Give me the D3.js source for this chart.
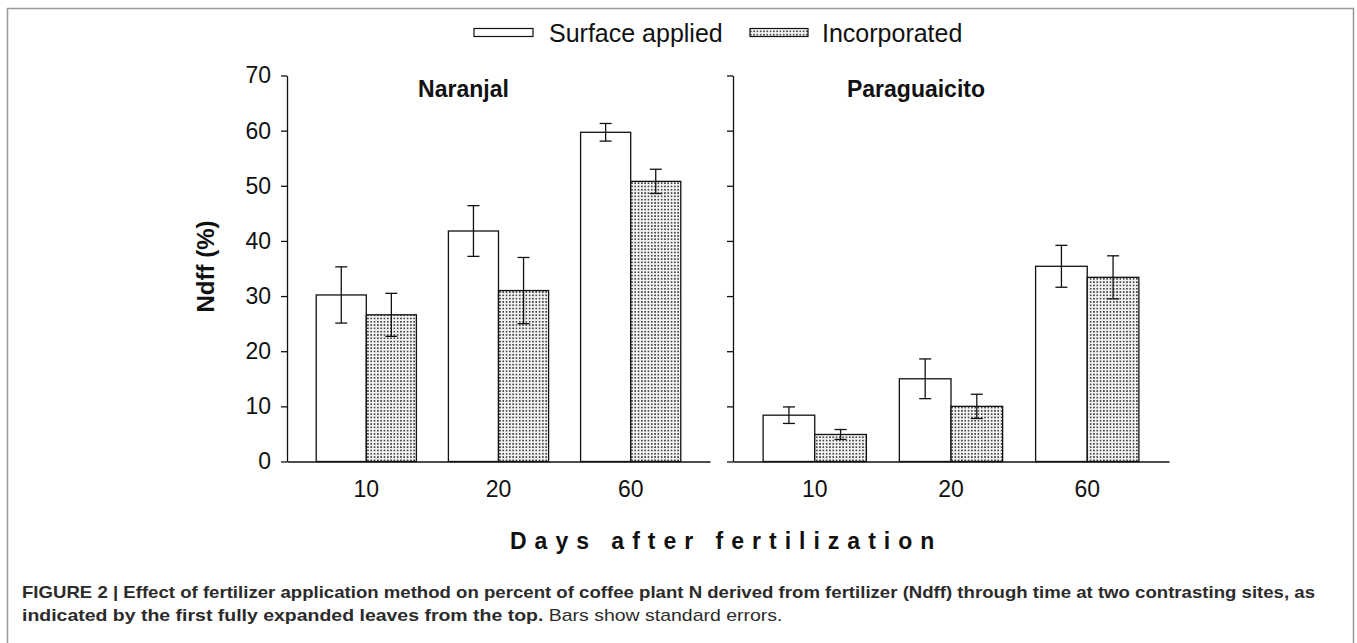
<!DOCTYPE html>
<html>
<head>
<meta charset="utf-8">
<script src="https://cdn.jsdelivr.net/npm/d3@7"></script>
<style>
  body { margin: 0; background: #fff; }
  svg { display: block; font-family: Arial, "Liberation Sans", sans-serif; }
</style>
</head>
<body>
<div class="graph"></div>
<script>
// Datos
const days = ["10", "20", "60"];
const methods = ["surface", "incorporated"];
const legendLabels = ["Surface applied", "Incorporated"];
const yTicks = [0, 10, 20, 30, 40, 50, 60, 70];

const naranjalSurface = [30.2, 41.8, 59.7];
const naranjalSurfaceSE = [5.1, 4.6, 1.6];
const naranjalIncorporated = [26.6, 31.0, 50.8];
const naranjalIncorporatedSE = [3.9, 6.0, 2.2];

const paraguaicitoSurface = [8.4, 15.0, 35.4];
const paraguaicitoSurfaceSE = [1.5, 3.6, 3.8];
const paraguaicitoIncorporated = [4.9, 10.0, 33.4];
const paraguaicitoIncorporatedSE = [0.9, 2.2, 3.9];

const width = 1357;
const height = 643;

const svg = d3.select(".graph")
    .append("svg")
    .attr("width", width)
    .attr("height", height);

// Patrón de puntos para "Incorporated"
const defs = svg.append("defs");
const pat = defs.append("pattern")
    .attr("id", "dots")
    .attr("patternUnits", "userSpaceOnUse")
    .attr("width", 3.3)
    .attr("height", 3.3);
pat.append("rect").attr("width", 3.3).attr("height", 3.3).attr("fill", "#f2f2f2");
pat.append("rect").attr("x", 0.9).attr("y", 0.9).attr("width", 1.5).attr("height", 1.5).attr("fill", "#222");

// Marco de la figura
svg.append("path")
    .attr("d", "M7.5,643 V8.5 H1353.5 V643")
    .attr("fill", "none")
    .attr("stroke", "#999")
    .attr("stroke-width", 1.5);

// Escala Y común
const yScale = d3.scaleLinear()
    .domain([0, 70])
    .range([461.5, 75.5]);

const panels = [
    { name: "Naranjal", range: [287, 710], labels: true,
      values: [naranjalSurface, naranjalIncorporated], se: [naranjalSurfaceSE, naranjalIncorporatedSE] },
    { name: "Paraguaicito", range: [733, 1169], labels: false,
      values: [paraguaicitoSurface, paraguaicitoIncorporated], se: [paraguaicitoSurfaceSE, paraguaicitoIncorporatedSE] }
];

panels.forEach(function (p) {
    const x0 = d3.scaleBand()
        .domain(days)
        .range(p.range)
        .paddingInner(0.242)
        .paddingOuter(0.221);

    const x1 = d3.scaleBand()
        .domain(methods)
        .range([0, x0.bandwidth()]);

    const g = svg.append("g");

    // Barras
    methods.forEach(function (m, mi) {
        g.selectAll(null)
            .data(days)
            .enter()
            .append("rect")
            .attr("x", d => x0(d) + x1(m))
            .attr("y", (d, i) => yScale(p.values[mi][i]))
            .attr("width", x1.bandwidth())
            .attr("height", (d, i) => yScale(0) - yScale(p.values[mi][i]))
            .attr("fill", mi === 0 ? "#fff" : "url(#dots)")
            .attr("stroke", "#111")
            .attr("stroke-width", 1.3);
    });

    // Barras de error
    methods.forEach(function (m, mi) {
        days.forEach(function (d, i) {
            const cx = x0(d) + x1(m) + x1.bandwidth() / 2;
            const top = yScale(p.values[mi][i] + p.se[mi][i]);
            const bot = yScale(p.values[mi][i] - p.se[mi][i]);
            const eg = g.append("g").attr("stroke", "#111").attr("stroke-width", 1.3);
            eg.append("line").attr("x1", cx).attr("x2", cx).attr("y1", top).attr("y2", bot);
            eg.append("line").attr("x1", cx - 6).attr("x2", cx + 6).attr("y1", top).attr("y2", top);
            eg.append("line").attr("x1", cx - 6).attr("x2", cx + 6).attr("y1", bot).attr("y2", bot);
        });
    });

    // Eje Y
    const yAxis = d3.axisLeft(yScale)
        .tickValues(yTicks)
        .tickSize(6)
        .tickSizeOuter(0)
        .tickPadding(10);
    if (!p.labels) yAxis.tickFormat("");

    const ya = g.append("g")
        .attr("transform", `translate(${p.range[0]},0)`)
        .call(yAxis);
    ya.selectAll("path, line").attr("stroke", "#111").attr("stroke-width", 1.3);
    ya.selectAll("text").attr("font-size", 23).attr("fill", "#111").attr("font-family", null);

    // Eje X
    const xa = g.append("g")
        .attr("transform", `translate(0,${yScale(0)})`)
        .call(d3.axisBottom(x0).tickSize(0).tickSizeOuter(0).tickPadding(19.5));
    xa.selectAll("path").attr("stroke", "#111").attr("stroke-width", 1.3);
    xa.selectAll("text").attr("font-size", 23).attr("fill", "#111").attr("font-family", null);

    // Título del panel
    g.append("text")
        .attr("x", (p.range[0] + p.range[1]) / 2 - 35)
        .attr("y", 97)
        .attr("text-anchor", "middle")
        .attr("font-size", 23)
        .attr("font-weight", "bold")
        .attr("fill", "#111")
        .text(p.name);
});

// Etiqueta del eje Y
svg.append("text")
    .attr("transform", "translate(214,266.5) rotate(-90)")
    .attr("text-anchor", "middle")
    .attr("font-size", 24)
    .attr("font-weight", "bold")
    .attr("fill", "#111")
    .text("Ndff (%)");

// Etiqueta del eje X
svg.append("text")
    .attr("x", 510)
    .attr("y", 549.3)
    .attr("font-size", 23)
    .attr("font-weight", "bold")
    .attr("letter-spacing", 8)
    .attr("fill", "#111")
    .text("Days after fertilization");

// Leyenda
const legend = svg.append("g");
const legendX = [474, 750];
legendLabels.forEach(function (lab, i) {
    legend.append("rect")
        .attr("x", legendX[i])
        .attr("y", 28.5)
        .attr("width", i === 0 ? 59 : 58)
        .attr("height", 8)
        .attr("fill", i === 0 ? "#fff" : "url(#dots)")
        .attr("stroke", "#111")
        .attr("stroke-width", 1.2);
    legend.append("text")
        .attr("x", legendX[i] + (i === 0 ? 75 : 72))
        .attr("y", 41.5)
        .attr("font-size", 25)
        .attr("fill", "#111")
        .text(lab);
});

// Pie de figura
const cap1 = svg.append("text")
    .attr("font-size", 16)
    .attr("font-weight", "bold")
    .attr("fill", "#2b2b2b")
    .text("FIGURE 2 | Effect of fertilizer application method on percent of coffee plant N derived from fertilizer (Ndff) through time at two contrasting sites, as");

const cap2 = svg.append("text")
    .attr("font-size", 16)
    .attr("fill", "#2b2b2b");
cap2.append("tspan").attr("font-weight", "bold").text("indicated by the first fully expanded leaves from the top.");
cap2.append("tspan").text(" Bars show standard errors.");

// Ajustar el ancho del pie al de la figura original
function fit(sel, x, y, target) {
    const len = sel.node().getComputedTextLength();
    sel.attr("transform", `translate(${x},${y}) scale(${target / len},1)`);
}
fit(cap1, 22, 597.7, 1294);
fit(cap2, 22, 621, 761);
</script>
</body>
</html>
